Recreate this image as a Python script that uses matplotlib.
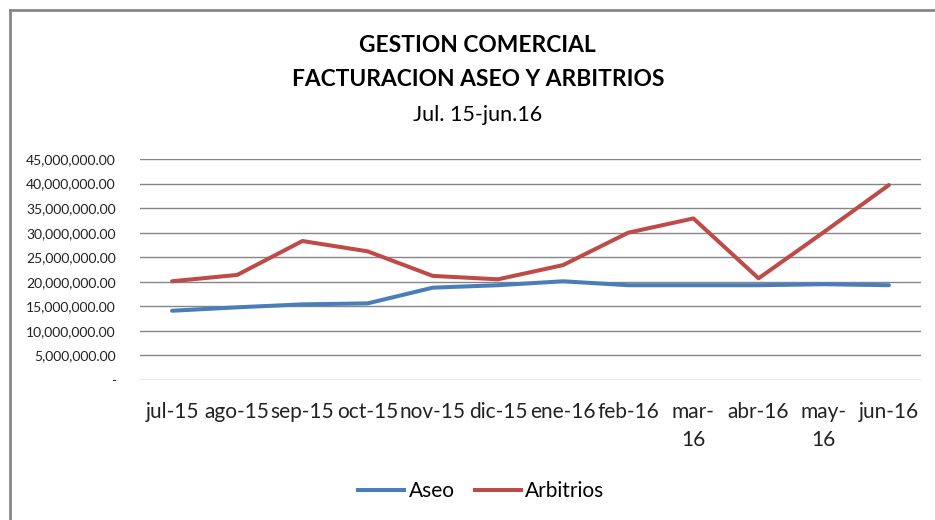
import numpy as np
import matplotlib
matplotlib.use("Agg")
import matplotlib.pyplot as plt
from matplotlib.ticker import FuncFormatter
from matplotlib.lines import Line2D

plt.rcParams['font.family'] = ['Lato', 'DejaVu Sans']

months = ['jul-15', 'ago-15', 'sep-15', 'oct-15', 'nov-15', 'dic-15',
          'ene-16', 'feb-16', 'mar-\n16', 'abr-16', 'may-\n16', 'jun-16']
aseo = [14.1, 14.8, 15.4, 15.6, 18.8, 19.3, 20.1, 19.3, 19.3, 19.3, 19.5, 19.3]
arbitrios = [20.1, 21.4, 28.3, 26.2, 21.2, 20.5, 23.4, 30.0, 32.9, 20.7, 30.1, 39.7]
aseo = np.array(aseo) * 1e6
arbitrios = np.array(arbitrios) * 1e6

blue = '#4A7EBB'
red = '#BE4B48'

fig = plt.figure(figsize=(9.35, 5.2), dpi=100)
ax = fig.add_axes([139.5/935, 1-380/520, (921.5-139.5)/935, (380-159)/520])

x = np.arange(len(months))
ax.plot(x, aseo, color=blue, lw=2.9, solid_capstyle='round', label='Aseo')
ax.plot(x, arbitrios, color=red, lw=2.9, solid_capstyle='round', label='Arbitrios')

ax.set_xlim(-0.5, len(months) - 0.5)
ax.set_ylim(0, 45e6)
ax.set_yticks(np.arange(0, 45e6 + 1, 5e6))
ax.yaxis.set_major_formatter(FuncFormatter(lambda v, p: '-' if v == 0 else f'{v:,.2f}'))
ax.grid(axis='y', color='#868686', lw=1)
ax.set_axisbelow(True)
for s in ax.spines.values():
    s.set_visible(False)
ax.tick_params(axis='y', length=0, pad=17, labelsize=10, labelcolor='#222222')
ax.set_xticks(x)
ax.set_xticklabels(months, fontsize=15, linespacing=1.5)
ax.tick_params(axis='x', length=0, pad=15.5, labelcolor='#222222')

fig.text(0.511, 1-46/520, 'GESTION COMERCIAL', ha='center', va='center',
         fontsize=16.4, fontweight='bold')
fig.text(0.511, 1-80/520, 'FACTURACION ASEO Y ARBITRIOS', ha='center', va='center',
         fontsize=16.4, fontweight='bold')
fig.text(0.511, 1-115/520, 'Jul. 15-jun.16', ha='center', va='center', fontsize=15.5)

handles = [Line2D([], [], color=blue, lw=2.9), Line2D([], [], color=red, lw=2.9)]
fig.legend(handles, ['Aseo', 'Arbitrios'], loc='center', bbox_to_anchor=(0.515, 1-491/520),
           ncol=2, frameon=False, fontsize=15, handlelength=2.2, handletextpad=0.2,
           columnspacing=1.0)

# chart border (left and top edges visible)
fig.add_artist(Line2D([10/935, 10/935], [0, 1-10/520], color='#888888', lw=2))
fig.add_artist(Line2D([10/935, 1], [1-10/520, 1-10/520], color='#888888', lw=2))

fig.savefig('out.png', dpi=100)
